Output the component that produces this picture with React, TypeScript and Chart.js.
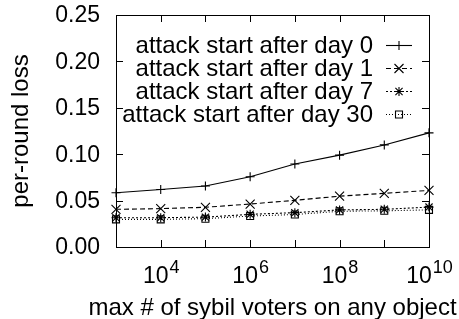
import React, { useEffect, useRef } from "react";
import { Chart, registerables } from "chart.js";

Chart.register(...registerables);

const xValues = [1e3, 1e4, 1e5, 1e6, 1e7, 1e8, 1e9, 1e10];
const xTickExponents = [3, 4, 5, 6, 7, 8, 9, 10];
const xLabelExponents = [4, 6, 8, 10];
const yTicks = [0, 0.05, 0.1, 0.15, 0.2, 0.25];

const seriesLabels = [
  "attack start after day 0",
  "attack start after day 1",
  "attack start after day 7",
  "attack start after day 30",
];
const day0 = [0.0585, 0.062, 0.0657, 0.0757, 0.0894, 0.099, 0.11, 0.123];
const day1 = [0.0406, 0.0413, 0.0428, 0.0463, 0.0503, 0.0548, 0.0578, 0.061];
const day7 = [0.0316, 0.0316, 0.0322, 0.0352, 0.037, 0.04, 0.0406, 0.043];
const day30 = [0.0298, 0.0298, 0.0305, 0.0334, 0.035, 0.0385, 0.039, 0.04];

const xTitle = "max # of sybil voters on any object";
const yTitle = "per-round loss";

const FONT = '"Liberation Sans", Arial, Helvetica, sans-serif';
const styles = [
  { marker: "plus", dash: [] as number[], r: 4.5 },
  { marker: "x", dash: [5, 3], r: 4.5 },
  { marker: "star", dash: [2, 2], r: 4.5 },
  { marker: "square", dash: [1, 2], r: 3.5 },
];

function drawMarker(ctx: CanvasRenderingContext2D, kind: string, x: number, y: number, r: number) {
  ctx.save();
  ctx.setLineDash([]);
  ctx.strokeStyle = "#000";
  ctx.lineWidth = 1.1;
  ctx.beginPath();
  if (kind === "plus" || kind === "star") {
    ctx.moveTo(x - r, y);
    ctx.lineTo(x + r, y);
    ctx.moveTo(x, y - r);
    ctx.lineTo(x, y + r);
  }
  if (kind === "x" || kind === "star") {
    const d = kind === "star" ? r * 0.8 : r;
    ctx.moveTo(x - d, y - d);
    ctx.lineTo(x + d, y + d);
    ctx.moveTo(x - d, y + d);
    ctx.lineTo(x + d, y - d);
  }
  if (kind === "square") {
    ctx.rect(x - r, y - r, 2 * r, 2 * r);
  }
  ctx.stroke();
  ctx.restore();
}

const decor = {
  id: "gnuplotDecor",
  afterDatasetsDraw(chart: any) {
    const ctx: CanvasRenderingContext2D = chart.ctx;
    const xs = chart.scales.x;
    const ys = chart.scales.y;
    const { left, right, top, bottom } = chart.chartArea;
    ctx.save();
    // markers
    chart.data.datasets.forEach((ds: any, i: number) => {
      ds.data.forEach((p: any) => {
        drawMarker(ctx, styles[i].marker, xs.getPixelForValue(p.x), ys.getPixelForValue(p.y), styles[i].r);
      });
    });
    // border
    ctx.strokeStyle = "#000";
    ctx.lineWidth = 1;
    ctx.setLineDash([]);
    ctx.strokeRect(Math.round(left) + 0.5, Math.round(top) + 0.5, Math.round(right - left), Math.round(bottom - top));
    const tl = 7;
    ctx.beginPath();
    xTickExponents.forEach((e) => {
      const px = Math.round(xs.getPixelForValue(Math.pow(10, e))) + 0.5;
      ctx.moveTo(px, bottom);
      ctx.lineTo(px, bottom - tl);
      ctx.moveTo(px, top);
      ctx.lineTo(px, top + tl);
    });
    yTicks.forEach((v) => {
      const py = Math.round(ys.getPixelForValue(v)) + 0.5;
      ctx.moveTo(left, py);
      ctx.lineTo(left + tl, py);
      ctx.moveTo(right, py);
      ctx.lineTo(right - tl, py);
    });
    ctx.stroke();
    // y tick labels
    ctx.fillStyle = "#000";
    ctx.font = `23px ${FONT}`;
    ctx.textAlign = "right";
    ctx.textBaseline = "middle";
    yTicks.forEach((v) => {
      ctx.fillText(v.toFixed(2), left - 16, ys.getPixelForValue(v) + 1);
    });
    // x tick labels with superscript
    ctx.textAlign = "left";
    ctx.textBaseline = "alphabetic";
    xLabelExponents.forEach((e) => {
      const px = xs.getPixelForValue(Math.pow(10, e));
      ctx.font = `23px ${FONT}`;
      const wb = ctx.measureText("10").width;
      ctx.font = `18px ${FONT}`;
      const ws = ctx.measureText(String(e)).width;
      const x0 = px - (wb + ws) / 2;
      ctx.font = `23px ${FONT}`;
      ctx.fillText("10", x0, bottom + 36);
      ctx.font = `18px ${FONT}`;
      ctx.fillText(String(e), x0 + wb + 1, bottom + 26);
    });
    // axis titles
    ctx.font = `24px ${FONT}`;
    ctx.textAlign = "center";
    ctx.fillText(xTitle, (left + right) / 2, 315);
    ctx.save();
    ctx.translate(28, (top + bottom) / 2);
    ctx.rotate(-Math.PI / 2);
    ctx.textBaseline = "alphabetic";
    ctx.fillText(yTitle, 0, 0);
    ctx.restore();
    // legend
    const baselines = [53, 76, 99, 122];
    seriesLabels.forEach((lab, i) => {
      ctx.font = `24px ${FONT}`;
      ctx.textAlign = "right";
      ctx.textBaseline = "alphabetic";
      ctx.fillText(lab, 373, baselines[i]);
      const cy = baselines[i] - 7.5;
      ctx.save();
      ctx.setLineDash(styles[i].dash);
      ctx.lineWidth = 1.1;
      ctx.beginPath();
      ctx.moveTo(386, cy);
      ctx.lineTo(412, cy);
      ctx.stroke();
      ctx.restore();
      drawMarker(ctx, styles[i].marker, 399, cy, styles[i].r);
    });
    ctx.restore();
  },
};

export default function App() {
  const ref = useRef<HTMLCanvasElement | null>(null);
  useEffect(() => {
    if (!ref.current) return;
    const series = [day0, day1, day7, day30];
    const chart = new Chart(ref.current, {
      type: "line",
      data: {
        datasets: series.map((s, i) => ({
          label: seriesLabels[i],
          data: xValues.map((x, j) => ({ x, y: s[j] })),
          borderColor: "#000",
          borderWidth: 1.1,
          borderDash: styles[i].dash,
          pointRadius: 0,
          fill: false,
          tension: 0,
          clip: false as any,
        })),
      },
      options: {
        animation: false,
        responsive: false,
        devicePixelRatio: 1,
        layout: { padding: { left: 0, right: 30, top: 15, bottom: 0 } },
        plugins: { legend: { display: false }, tooltip: { enabled: false } },
        scales: {
          x: {
            type: "logarithmic",
            min: 1e3,
            max: 1e10,
            ticks: { display: false },
            grid: { display: false },
            border: { display: false },
            afterFit: (s: any) => {
              s.height = 72;
            },
          },
          y: {
            type: "linear",
            min: 0,
            max: 0.25,
            ticks: { display: false, stepSize: 0.05 },
            grid: { display: false },
            border: { display: false },
            afterFit: (s: any) => {
              s.width = 116;
            },
          },
        },
      },
      plugins: [decor],
    });
    return () => chart.destroy();
  }, []);
  return (
    <div style={{ position: "absolute", left: 0, top: 0, width: 459, height: 319, background: "#fff" }}>
      <canvas ref={ref} width={459} height={319} style={{ display: "block" }} />
    </div>
  );
}
